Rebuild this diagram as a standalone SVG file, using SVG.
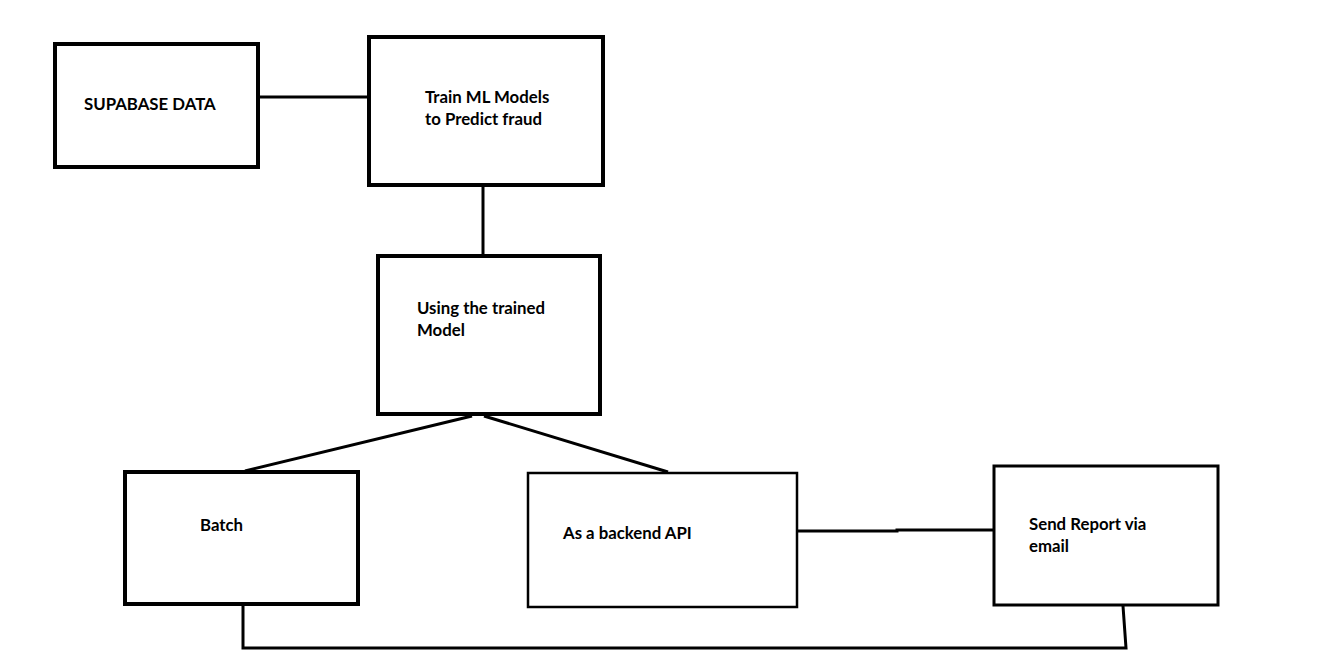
<svg xmlns="http://www.w3.org/2000/svg" width="1342" height="660" viewBox="0 0 1342 660">
  <style>
    .box { fill: #ffffff; stroke: #000000; }
    .thick { stroke-width: 4; }
    .mid { stroke-width: 3; }
    .thin { stroke-width: 2.5; }
    .link { fill: none; stroke: #000000; stroke-width: 3; }
    .label { font-family: Lato, "Open Sans", "Liberation Sans", sans-serif; font-weight: 700; font-size: 16.8px; fill: #000000; }
  </style>
  <rect width="1342" height="660" fill="#ffffff"/>

  <g id="connectors">
    <line class="link" x1="258" y1="97" x2="374" y2="97"/>
    <line class="link" x1="483" y1="186" x2="483" y2="256"/>
    <line class="link" x1="472" y1="416" x2="245" y2="471"/>
    <line class="link" x1="484" y1="416" x2="668" y2="472"/>
    <polyline class="link" points="797,531 897,531 897,530 994,530"/>
    <polyline class="link" points="243,605 243,648 1126,648 1123,606"/>
  </g>

  <g id="supabase-data">
    <rect class="box thick" x="55" y="44" width="203" height="123"/>
    <text class="label" x="84" y="110">SUPABASE DATA</text>
  </g>

  <g id="train-models">
    <rect class="box thick" x="369" y="37" width="234" height="148"/>
    <text class="label" x="425" y="103">Train ML Models</text>
    <text class="label" x="425" y="125">to Predict fraud</text>
  </g>

  <g id="trained-model">
    <rect class="box thick" x="378" y="256" width="222" height="158"/>
    <text class="label" x="417" y="314">Using the trained</text>
    <text class="label" x="417" y="336">Model</text>
  </g>

  <g id="batch">
    <rect class="box thick" x="125" y="472" width="233" height="132"/>
    <text class="label" x="200" y="531">Batch</text>
  </g>

  <g id="backend-api">
    <rect class="box thin" x="528" y="473" width="269" height="134"/>
    <text class="label" x="563" y="539">As a backend API</text>
  </g>

  <g id="send-report">
    <rect class="box mid" x="994" y="466" width="224" height="139"/>
    <text class="label" x="1029" y="530">Send Report via</text>
    <text class="label" x="1029" y="552">email</text>
  </g>
</svg>
